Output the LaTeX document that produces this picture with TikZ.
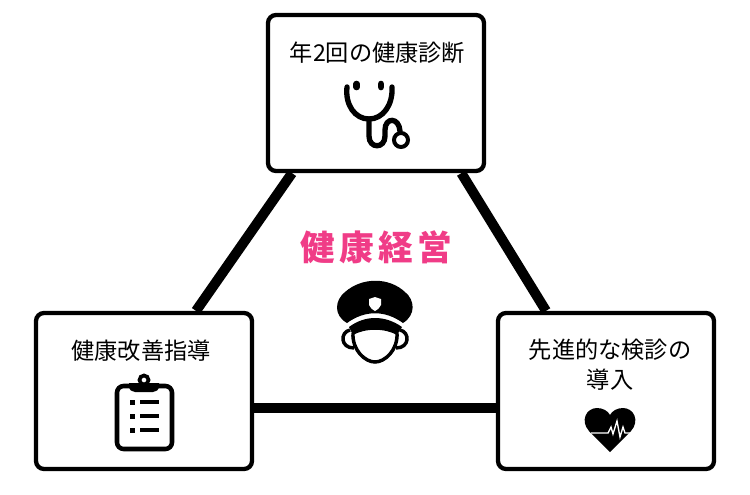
\documentclass[tikz,border=0pt]{standalone}
\usepackage{fontspec}
\usetikzlibrary{backgrounds}
\newfontfamily\cjk{Noto Sans CJK JP}
\definecolor{titlepink}{RGB}{240,60,135}
\tikzset{
  itembox/.style={draw=black,line width=3.2pt,rounded corners=6pt,fill=white,minimum width=162pt,minimum height=117pt,inner sep=0pt},
  itemtext/.style={inner sep=0.75pt,align=center,font=\cjk\fontsize{17.4}{22.5}\selectfont},
  linkline/.style={line width=7.5pt,line cap=butt},
}
\begin{document}
\begin{tikzpicture}[x=0.75pt,y=0.75pt,yscale=-1,xscale=1]
    \useasboundingbox (0,0) rectangle (750,494);

    % Boxes
    \node [itembox] (checkup) at (376,93) {};
    \node [itembox] (guidance) at (144,391) {};
    \node [itembox] (screening) at (606,391) {};

    % Connectors
    \begin{scope}[on background layer]
    \draw [linkline] ([xshift=-63pt]checkup.south) -- ([xshift=39pt]guidance.north);
    \draw [linkline] ([xshift=64pt]checkup.south) -- ([xshift=-45pt]screening.north);
    \draw [linkline] ([yshift=12.75pt]guidance.east) -- ([yshift=12.75pt]screening.west);
    \end{scope}

    % Text Node
    \node [itemtext] (checkuptext) at (377.5,53) {年2回の健康診断};
    \node [itemtext] (guidancetext) at (141,351) {健康改善指導};
    \node [itemtext] (screeningtext) at (610,365) {先進的な検診の\\導入};
    \node [inner sep=0.75pt,text=titlepink,font={\cjk\bfseries\fontsize{26}{30}\selectfont}] (title) at (376.5,247) {健\hspace{3.2pt}康\hspace{3.2pt}経\hspace{3.2pt}営};

    %Shape: Stethoscope
    \draw [line width=4pt,line cap=round] (347,87) .. controls (345,105) and (355,119) .. (369,119) .. controls (383,119) and (393,105) .. (392,87);
    \draw [line width=5pt,line cap=round] (356.7,84) -- (356.7,87);
    \draw [line width=4pt,line cap=round] (369,119) -- (369,136) .. controls (369,149) and (385,149) .. (385,136) -- (385,130) .. controls (385,117) and (399,117) .. (400,131);
    \draw [line width=5pt,line cap=round] (381,84) -- (381,87);
    \draw [line width=3pt,fill=white] (401,140) circle (7);

    %Shape: Officer cap
    \fill (347,323) .. controls (333,315) and (335,300) .. (345,292) .. controls (362,277) and (389,277) .. (405,292) .. controls (415,300) and (416,315) .. (403,323) .. controls (385,310) and (365,310) .. (347,323) -- cycle;
    \fill [white] (369,299) -- (375,297) -- (381,299) -- (381,305) .. controls (380,308) and (377,310) .. (375,311) .. controls (373,310) and (370,308) .. (369,305) -- cycle;
    \fill (349,327) .. controls (365,315) and (385,315) .. (402,327) -- (397,335) .. controls (385,328) and (365,328) .. (353,335) -- cycle;
    \draw [line width=2.6pt] (353,333) .. controls (352,350) and (365,362) .. (375,362) .. controls (385,362) and (398,350) .. (397,333);
    \draw [line width=2.6pt] (350,330) .. controls (340,332) and (340,348) .. (354,348);
    \draw [line width=2.6pt] (400,330) .. controls (410,332) and (410,348) .. (396,348);

    %Shape: Clipboard
    \draw [line width=3.4pt,rounded corners=5pt] (117,386) rectangle (172,449);
    \draw [line width=2.8pt] (144,380) circle (4.5);
    \fill (129,383) -- (159,383) -- (159,386) .. controls (159,390) and (156,392) .. (153,392) -- (135,392) .. controls (132,392) and (129,390) .. (129,386) -- cycle;
    \foreach \rowy in {402,416,430} {
      \fill (130,\rowy-2.5) rectangle (135,\rowy+2.5);
      \fill (140,\rowy-1.75) rectangle (159,\rowy+1.75);
    }

    %Shape: Heart
    \fill (610,452) -- (589,431) .. controls (580,421) and (586,408) .. (597,408) .. controls (603,408) and (608,411) .. (610,415) .. controls (612,411) and (617,408) .. (623,408) .. controls (634,408) and (640,421) .. (631,431) -- cycle;
    \draw [white,line width=1pt] (591,433) -- (608,433) -- (611,427) -- (613,434) -- (617,421) -- (620,437) -- (623,427) -- (625,433) -- (630,433);
\end{tikzpicture}
\end{document}
